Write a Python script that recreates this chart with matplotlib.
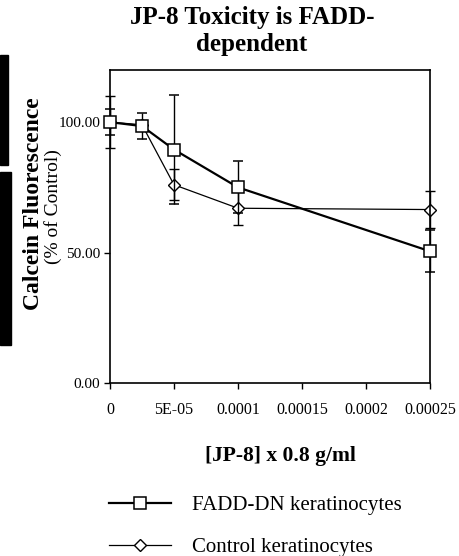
import matplotlib
matplotlib.use("Agg")
import matplotlib.pyplot as plt
from matplotlib.patches import Rectangle

# concentration (x 0.8 g/ml)
conc = [0, 2.5e-5, 5e-5, 1e-4, 2.5e-4]

# calcein fluorescence, % of control
fadd_dn = [100, 98.5, 89.5, 75, 50.5]
fadd_dn_err = [5, 5, 21, 10, 8]
control = [100, 99, 76, 67, 66.5]
control_err = [10, 2, 6, 6.5, 7]

xticks = [0, 5e-5, 1e-4, 1.5e-4, 2e-4, 2.5e-4]
xtick_labels = ["0", "5E-05", "0.0001", "0.00015", "0.0002", "0.00025"]
yticks = [0, 50, 100]

plt.rcParams['font.family'] = ['Liberation Serif', 'DejaVu Serif']

fig = plt.figure(figsize=(4.6, 5.56), dpi=100)
ax = fig.add_axes([110 / 460, 1 - 383 / 556, 320 / 460, 313 / 556])

sq = ax.errorbar(conc, fadd_dn, yerr=fadd_dn_err, color='black', lw=1.6,
                 marker='s', ms=8, mfc='white', mec='black', mew=1.1,
                 elinewidth=1.0, capsize=3.6, capthick=1.0, zorder=3)
dm = ax.errorbar(conc, control, yerr=control_err, color='black', lw=0.9,
                 marker='D', ms=6, mfc='white', mec='black', mew=1.0,
                 elinewidth=1.0, capsize=3.6, capthick=1.0, zorder=2)
for cont in (sq, dm):
    for a in cont.get_children():
        a.set_clip_on(False)

ax.set_xlim(0, 2.5e-4)
ax.set_ylim(0, 120)
ax.set_xticks(xticks)
ax.set_xticklabels(xtick_labels, fontsize=11.5)
ax.set_yticks(yticks)
ax.set_yticklabels([f"{v:.2f}" for v in yticks], fontsize=11)
ax.tick_params(direction='out', length=4, width=1)
ax.tick_params(axis='x', pad=10)
ax.tick_params(axis='y', pad=3)
for s in ax.spines.values():
    s.set_linewidth(1.2)

fig.text(0.548, 1 - 31 / 556, "JP-8 Toxicity is FADD-\ndependent",
         ha='center', va='center', fontsize=18, fontweight='bold',
         linespacing=1.2)

fig.text(34 / 460, 1 - 204 / 556, "Calcein Fluorescence", rotation=90,
         ha='center', va='center', fontsize=17, fontweight='bold')
fig.text(53 / 460, 1 - 207 / 556, "(% of Control)", rotation=90,
         ha='center', va='center', fontsize=14)

fig.text(280 / 460, 1 - 456 / 556, "[JP-8] x 0.8 g/ml", ha='center',
         va='center', fontsize=15.5, fontweight='bold')

ax.legend([sq[0], dm[0]], ["FADD-DN keratinocytes", "Control keratinocytes"],
          loc='upper left', bbox_to_anchor=(90 / 460, 1 - 477 / 556),
          bbox_transform=fig.transFigure, frameon=False, fontsize=15,
          handlelength=3.0, handletextpad=1.0, labelspacing=1.05)

# dark scan edge on the left
fig.patches.append(Rectangle((0, 1 - 165 / 556), 8 / 460, 110 / 556,
                             transform=fig.transFigure, color='black'))
fig.patches.append(Rectangle((0, 1 - 345 / 556), 11 / 460, 173 / 556,
                             transform=fig.transFigure, color='black'))

fig.savefig("out.png", dpi=100)
